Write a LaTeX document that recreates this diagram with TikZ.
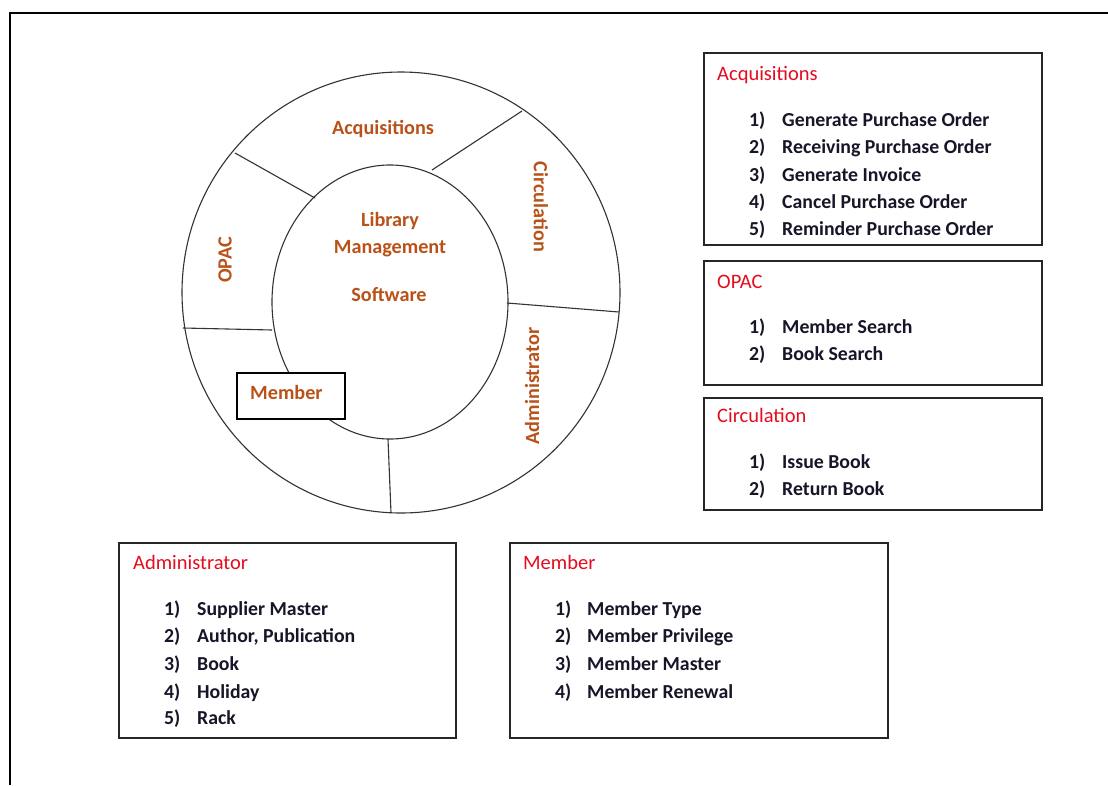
\documentclass[tikz,border=0pt]{standalone}
\usepackage{fontspec}
\setmainfont{Carlito}
\definecolor{ringc}{RGB}{185,82,25}
\definecolor{titlec}{RGB}{228,12,30}
\definecolor{itemc}{RGB}{22,22,40}
\begin{document}
\begin{tikzpicture}[x=1pt,y=-1pt,
  ringtext/.style={text=ringc,font=\fontsize{20.2}{22}\selectfont\bfseries,inner sep=0pt},
  listbox/.style={draw=black!85,line width=1.2pt},
  boxtitle/.style={anchor=base west,text=titlec,font=\fontsize{20.5}{22}\selectfont,inner sep=0pt},
  itemnum/.style={anchor=base west,text=itemc,font=\fontsize{19.8}{22}\selectfont\bfseries,inner sep=0pt},
  itemtext/.style={anchor=base west,text=itemc,font=\fontsize{19.8}{22}\selectfont\bfseries,inner sep=0pt},
  ringline/.style={draw=black!80,line width=1.1pt}]
\useasboundingbox (0,0) rectangle (1108,785);
\fill[white] (0,0) rectangle (1108,785);
% frame
\draw[line width=2pt] (10,785) -- (10,13) -- (1108,13);
% ring
\draw[ringline] (401,292.5) ellipse [x radius=219, y radius=220.5];
\draw[ringline] (390,302) ellipse [x radius=118, y radius=137];
% dividers
\draw[ringline] (522,111) -- (432,170);
\draw[ringline] (235,153) -- (315,198);
\draw[ringline] (183,328) -- (272,330);
\draw[ringline] (507,303) -- (619,312);
\draw[ringline] (388,439) -- (391,513);
% ring labels
\node[ringtext] (lAcq) at (383,129) {Acquisitions};
\node[ringtext,rotate=-90] (lCirc) at (541,207) {Circulation};
\node[ringtext,rotate=90] (lOpac) at (225,260) {OPAC};
\node[ringtext,rotate=90] (lAdm) at (532,386) {Administrator};
\node[ringtext] (lLib) at (390,221) {Library};
\node[ringtext] (lMan) at (390,249) {Management};
\node[ringtext] (lSoft) at (389,295) {Software};
\node[draw=black,line width=1.2pt,fill=white,minimum width=108pt,minimum height=46pt,inner sep=0pt] (mbox) at (291,396) {};
\node[ringtext,anchor=west] (lMem) at (250,392) {Member};
% Acquisitions box
\node[listbox,minimum width=338pt,minimum height=192pt,inner sep=0pt] (bAcq) at (873,149) {};
\node[boxtitle] (tAcq) at (717,80.5) {Acquisitions};
\node[itemnum] (a1n) at (749,126.5) {1)};
\node[itemtext] (a1) at (782,126.5) {Generate Purchase Order};
\node[itemnum] (a2n) at (749,153.5) {2)};
\node[itemtext] (a2) at (782,153.5) {Receiving Purchase Order};
\node[itemnum] (a3n) at (749,181.5) {3)};
\node[itemtext] (a3) at (782,181.5) {Generate Invoice};
\node[itemnum] (a4n) at (749,208.5) {4)};
\node[itemtext] (a4) at (782,208.5) {Cancel Purchase Order};
\node[itemnum] (a5n) at (749,235.5) {5)};
\node[itemtext] (a5) at (782,235.5) {Reminder Purchase Order};
% OPAC box
\node[listbox,minimum width=338pt,minimum height=124pt,inner sep=0pt] (bOpac) at (873,323) {};
\node[boxtitle] (tOpac) at (717,288.5) {OPAC};
\node[itemnum] (o1n) at (749,333.5) {1)};
\node[itemtext] (o1) at (782,333.5) {Member Search};
\node[itemnum] (o2n) at (749,360.5) {2)};
\node[itemtext] (o2) at (782,360.5) {Book Search};
% Circulation box
\node[listbox,minimum width=338pt,minimum height=112pt,inner sep=0pt] (bCirc) at (873,454) {};
\node[boxtitle] (tCirc) at (717,422.5) {Circulation};
\node[itemnum] (c1n) at (749,468.5) {1)};
\node[itemtext] (c1) at (782,468.5) {Issue Book};
\node[itemnum] (c2n) at (749,495.5) {2)};
\node[itemtext] (c2) at (782,495.5) {Return Book};
% Administrator box
\node[listbox,minimum width=337pt,minimum height=195pt,inner sep=0pt] (bAdm) at (287.5,640.5) {};
\node[boxtitle] (tAdm) at (133,569.5) {Administrator};
\node[itemnum] (d1n) at (164,615.5) {1)};
\node[itemtext] (d1) at (197,615.5) {Supplier Master};
\node[itemnum] (d2n) at (164,642.5) {2)};
\node[itemtext] (d2) at (197,642.5) {Author, Publication};
\node[itemnum] (d3n) at (164,670.5) {3)};
\node[itemtext] (d3) at (197,670.5) {Book};
\node[itemnum] (d4n) at (164,698.5) {4)};
\node[itemtext] (d4) at (197,698.5) {Holiday};
\node[itemnum] (d5n) at (164,724.5) {5)};
\node[itemtext] (d5) at (197,724.5) {Rack};
% Member box
\node[listbox,minimum width=378pt,minimum height=195pt,inner sep=0pt] (bMem) at (699,640.5) {};
\node[boxtitle] (tMem) at (523,569.5) {Member};
\node[itemnum] (m1n) at (555,615.5) {1)};
\node[itemtext] (m1) at (587,615.5) {Member Type};
\node[itemnum] (m2n) at (555,642.5) {2)};
\node[itemtext] (m2) at (587,642.5) {Member Privilege};
\node[itemnum] (m3n) at (555,670.5) {3)};
\node[itemtext] (m3) at (587,670.5) {Member Master};
\node[itemnum] (m4n) at (555,698.5) {4)};
\node[itemtext] (m4) at (587,698.5) {Member Renewal};
\end{tikzpicture}
\end{document}
